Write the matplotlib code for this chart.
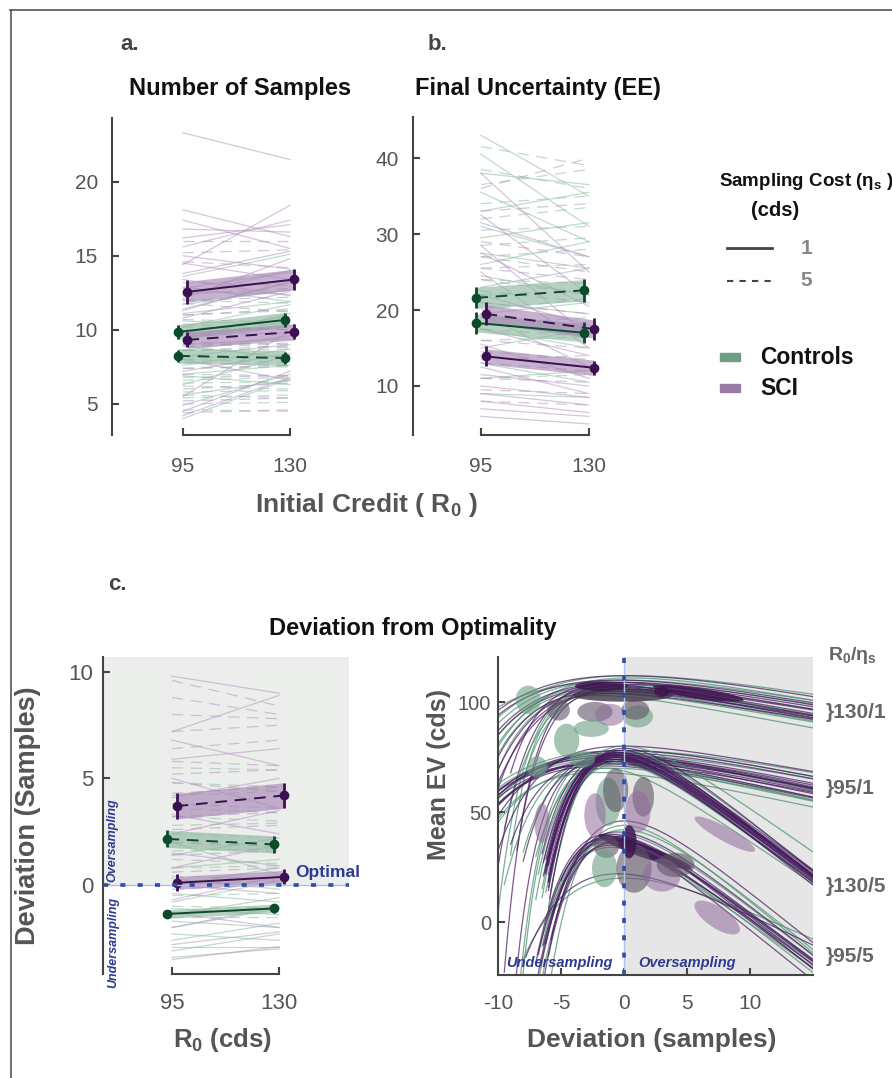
import numpy as np
import matplotlib
matplotlib.use('Agg')
import matplotlib.pyplot as plt
from matplotlib import font_manager
from matplotlib.lines import Line2D
from matplotlib.patches import Rectangle, Polygon

# ---------------- data ----------------
COND_X = [95, 130]
COND_NAMES = ['130/1', '95/1', '130/5', '95/5']

# panel a : number of samples  (v95, v130) per subject
A_CTL_1 = [(13.6, 15.1), (12.9, 11.9), (12.3, 14.0), (11.7, 12.7), (11.1, 11.9), (10.6, 10.3),
           (10.2, 11.7), (9.8, 10.9), (9.4, 10.6), (9.0, 9.4), (8.6, 9.6), (8.2, 9.0), (7.6, 8.7),
           (7.0, 7.6), (6.3, 8.3), (5.6, 6.6), (4.9, 7.0), (4.0, 6.7), (12.6, 12.4), (11.3, 13.3),
           (8.9, 8.1), (6.9, 6.3)]
A_CTL_5 = [(12.0, 11.8), (11.0, 11.3), (10.2, 10.0), (9.6, 9.8), (9.1, 8.8), (8.6, 8.7), (8.2, 8.0),
           (7.8, 7.6), (7.4, 7.5), (7.0, 6.9), (6.6, 6.8), (6.2, 6.0), (5.8, 5.9), (5.4, 5.6),
           (5.0, 5.1), (4.6, 4.5), (10.7, 10.5), (8.9, 9.1), (6.4, 6.5), (5.6, 5.4)]
A_SCI_1 = [(23.3, 21.5), (18.1, 16.3), (17.4, 15.5), (16.2, 17.1), (15.6, 17.4), (14.4, 18.4),
           (15.0, 14.1), (14.5, 13.4), (13.8, 15.3), (13.4, 12.3), (12.1, 14.8), (11.4, 13.2),
           (10.8, 12.6), (9.4, 11.1), (8.0, 6.6), (5.5, 9.9), (4.5, 7.2), (4.2, 6.8), (16.8, 16.6),
           (12.8, 13.9), (7.2, 8.4)]
A_SCI_5 = [(16.0, 16.0), (14.6, 14.2), (13.2, 13.0), (12.4, 12.8), (11.8, 11.2), (11.0, 11.4),
           (10.4, 10.0), (9.8, 10.2), (9.2, 9.0), (8.6, 8.9), (8.0, 7.8), (7.4, 7.6), (6.8, 6.9),
           (6.0, 6.4), (5.2, 5.4), (4.4, 4.6), (15.2, 15.4), (12.0, 12.2)]
# rows: CTL eta1, CTL eta5, SCI eta1, SCI eta5 ; cols: R0 95, 130
A_MEAN = [[9.86, 10.67], [8.24, 8.10], [12.57, 13.40], [9.32, 9.86]]
A_SEM = [[0.45, 0.45], [0.4, 0.4], [0.8, 0.7], [0.5, 0.5]]
A_BAND = [[0.5, 0.5], [0.5, 0.5], [0.7, 0.7], [0.55, 0.55]]

# panel b : final uncertainty
B_CTL_1 = [(43.0, 35.0), (40.5, 31.0), (38.0, 36.5), (35.5, 29.0), (33.0, 35.5), (31.0, 27.0),
           (29.5, 31.5), (27.5, 25.5), (26.0, 29.0), (24.5, 22.0), (23.0, 25.5), (21.0, 19.5),
           (19.5, 21.0), (17.5, 15.0), (15.0, 17.5), (13.0, 10.5), (11.0, 12.0), (9.0, 8.5)]
B_CTL_5 = [(41.5, 39.0), (38.5, 36.0), (36.5, 38.5), (34.0, 35.0), (32.0, 33.5), (30.5, 31.0),
           (28.5, 29.5), (27.0, 28.0), (25.5, 26.0), (24.0, 23.5), (22.0, 22.5), (20.0, 21.5),
           (18.0, 19.0), (16.0, 16.5), (13.5, 14.0), (11.0, 11.5)]
B_SCI_1 = [(38.0, 25.0), (32.5, 22.0), (31.5, 27.0), (28.5, 16.5), (27.5, 20.5), (25.0, 15.0),
           (22.0, 18.0), (19.5, 12.5), (17.5, 14.0), (15.5, 11.0), (14.0, 12.5), (12.5, 9.0),
           (11.5, 10.0), (10.0, 8.5), (9.0, 7.5), (8.0, 6.5), (7.0, 6.0), (6.0, 5.0)]
B_SCI_5 = [(36.0, 40.0), (33.0, 34.0), (29.0, 27.0), (27.0, 25.0), (25.5, 24.0), (24.0, 22.0),
           (22.5, 21.0), (21.0, 19.5), (19.0, 18.0), (17.5, 16.5), (16.0, 15.0), (14.5, 13.5),
           (13.0, 12.0), (11.0, 10.5), (9.5, 9.0), (8.0, 7.5)]
B_MEAN = [[18.3, 17.0], [21.6, 22.6], [13.9, 12.4], [19.5, 17.5]]
B_SEM = [[1.5, 1.4], [1.4, 1.5], [1.3, 0.9], [1.5, 1.4]]
B_BAND = [[1.2, 1.2], [1.4, 1.4], [1.0, 1.0], [1.2, 1.2]]

# panel c : deviation from optimality
C_CTL_1 = [(2.0, 0.5), (1.4, 2.2), (0.8, 1.2), (0.3, -0.2), (0.0, 0.8), (-0.4, -0.8), (-0.8, 0.2),
           (-1.1, -1.4), (-1.4, -0.6), (-1.7, -2.0), (-2.0, -1.1), (-2.3, -2.6), (-2.6, -1.8),
           (-2.9, -2.9), (-3.1, -2.3), (-3.4, -3.0)]
C_CTL_5 = [(5.5, 5.4), (4.8, 4.6), (4.2, 4.4), (3.6, 3.4), (3.2, 3.0), (2.8, 2.9), (2.4, 2.2),
           (2.0, 1.8), (1.6, 1.7), (1.2, 1.0), (0.8, 0.9), (0.4, 0.3), (0.0, 0.2), (-0.5, -0.4),
           (-1.0, -1.1), (-1.5, -1.5)]
C_SCI_1 = [(9.8, 9.0), (7.2, 8.9), (6.8, 5.6), (5.9, 6.4), (5.0, 3.6), (4.1, 5.0), (3.3, 2.4),
           (2.4, 3.5), (1.5, 0.9), (0.8, 1.9), (0.0, -0.4), (-0.7, 0.4), (-1.3, -2.0), (-2.0, -1.0),
           (-2.8, -2.2), (-3.5, -2.9)]
C_SCI_5 = [(9.6, 8.4), (8.8, 8.0), (8.0, 7.8), (7.2, 7.5), (6.4, 6.8), (5.8, 5.6), (5.2, 5.4),
           (4.8, 4.4), (4.3, 4.6), (3.8, 3.6), (3.2, 3.4), (2.6, 2.8), (2.0, 1.8), (1.4, 1.6),
           (0.6, 0.8), (-0.2, 0.0)]
C_MEAN = [[-1.36, -1.1], [2.16, 1.9], [0.1, 0.38], [3.7, 4.2]]
C_SEM = [[0.2, 0.2], [0.4, 0.4], [0.4, 0.35], [0.6, 0.6]]
C_BAND = [[0.2, 0.2], [0.4, 0.4], [0.3, 0.3], [0.6, 0.6]]

# panel d : model EV curves  (group, peak EV, peak deviation, width, cost slope, first deviation)
CURVES_130_1 = [('C', 108, -0.5, 4.5, 1.0, -12), ('C', 110, 0.0, 5.0, 0.9, -12), ('C', 106, -1.0, 4.0, 1.0, -12),
                ('C', 112, 0.5, 5.5, 0.9, -12), ('C', 104, -1.5, 3.5, 1.0, -12), ('C', 107, 0.0, 3.0, 1.1, -9.5),
                ('C', 105, -0.5, 2.5, 1.0, -8), ('C', 109, -1.0, 6.0, 0.95, -12), ('C', 103, -2.0, 3.0, 1.05, -12),
                ('C', 111, 0.5, 4.5, 1.0, -12), ('C', 106, -1.5, 2.0, 1.0, -9), ('C', 108, -1.0, 2.3, 1.0, -10),
                ('S', 107, -0.5, 4.5, 0.95, -12), ('S', 109, 0.0, 5.0, 1.0, -12), ('S', 105, -1.0, 3.5, 0.9, -12),
                ('S', 110, -0.5, 5.5, 1.0, -12), ('S', 106, 0.5, 4.0, 1.05, -12), ('S', 108, -1.5, 2.5, 1.0, -9),
                ('S', 104, -1.0, 3.0, 0.9, -10), ('S', 112, 0.0, 6.0, 1.0, -12), ('S', 106, -0.5, 2.2, 1.0, -8.5),
                ('S', 108, 0.5, 4.0, 0.95, -12), ('S', 107, -1.0, 2.0, 1.0, -9.5), ('S', 109, -0.5, 2.6, 0.95, -10)]
CURVES_95_1 = [('C', 74, -1.0, 5.5, 1.2, -12), ('C', 76, -0.5, 6.0, 1.1, -12), ('C', 72, -1.5, 5.0, 1.3, -12),
               ('C', 78, 0.0, 5.5, 1.2, -12), ('C', 70, -1.0, 4.5, 1.25, -12), ('C', 75, -0.5, 3.0, 1.2, -9.5),
               ('C', 73, -1.0, 2.5, 1.3, -8), ('C', 78, 0.0, 6.5, 1.1, -12), ('C', 68, -2.0, 4.0, 1.2, -12),
               ('C', 77, -0.5, 2.0, 1.2, -8.5), ('C', 72, -1.0, 1.8, 1.2, -9.0),
               ('S', 75, -1.0, 5.5, 1.25, -12), ('S', 73, -0.5, 6.0, 1.2, -12), ('S', 76, -1.0, 5.0, 1.15, -12),
               ('S', 74, -0.5, 5.5, 1.3, -12), ('S', 72, -1.5, 6.0, 1.2, -12), ('S', 78, 0.0, 4.5, 1.1, -12),
               ('S', 74, -1.0, 3.0, 1.2, -9), ('S', 76, -0.5, 2.5, 1.2, -8), ('S', 71, -1.5, 5.0, 1.25, -12),
               ('S', 80, 0.0, 3.5, 1.0, -10), ('S', 75, -1.0, 5.8, 1.2, -12), ('S', 73, -0.8, 5.2, 1.25, -12),
               ('S', 77, -0.5, 5.6, 1.15, -12), ('S', 74, -1.2, 1.9, 1.2, -9.5)]
CURVES_130_5 = [('C', 76, -0.5, 2.8, 4.3, -6.5), ('C', 74, -1.0, 2.9, 4.1, -6.8), ('C', 78, 0.0, 2.7, 4.4, -6.0),
                ('C', 72, -0.5, 2.7, 4.2, -6.2), ('C', 75, -1.0, 2.8, 4.3, -7.0), ('C', 70, -1.5, 3.0, 3.9, -7.0),
                ('C', 77, 0.0, 2.8, 4.6, -5.8), ('C', 73, -0.5, 2.9, 4.1, -6.5), ('C', 80, 0.0, 3.0, 4.0, -6.2),
                ('S', 76, -0.5, 2.8, 4.3, -6.0), ('S', 75, -0.8, 2.8, 4.2, -6.2), ('S', 77, -0.3, 2.7, 4.4, -6.0),
                ('S', 74, -0.6, 2.9, 4.3, -6.3), ('S', 76, -1.0, 2.9, 4.1, -6.5), ('S', 78, -0.2, 2.6, 4.5, -5.9),
                ('S', 73, -0.7, 2.8, 4.2, -6.1), ('S', 75, -0.4, 2.7, 4.3, -6.0), ('S', 77, -0.6, 2.9, 4.4, -6.4),
                ('S', 74, -0.2, 2.8, 4.1, -6.0), ('S', 76, -0.8, 2.7, 4.3, -6.2), ('S', 79, 0.0, 2.9, 4.6, -6.0),
                ('S', 75, -0.6, 2.8, 4.2, -6.1), ('S', 76, -0.3, 2.8, 4.4, -6.0), ('S', 74, -0.9, 2.9, 4.3, -6.4),
                ('S', 77, -0.4, 2.7, 4.2, -6.0), ('S', 75, -0.7, 2.8, 4.5, -6.2)]
CURVES_95_5 = [('C', 38, -1.0, 2.8, 4.2, -6.5), ('C', 40, -0.5, 3.0, 4.4, -7.0), ('C', 36, -1.5, 2.6, 4.1, -6.0),
               ('C', 42, 0.0, 3.2, 4.6, -7.5), ('C', 34, -1.0, 3.0, 4.0, -6.8), ('C', 44, 0.0, 2.7, 4.7, -6.0),
               ('C', 20, 0.0, 4.5, 2.6, -8.0), ('C', 37, -1.0, 2.4, 4.4, -5.2),
               ('S', 38, -0.8, 2.8, 4.3, -6.2), ('S', 39, -1.0, 3.0, 4.5, -6.8), ('S', 37, -0.5, 2.7, 4.2, -6.0),
               ('S', 40, -1.2, 2.9, 4.6, -7.0), ('S', 36, -0.8, 2.6, 4.3, -5.8), ('S', 41, -0.5, 3.1, 4.5, -7.2),
               ('S', 35, -1.0, 2.8, 4.1, -6.4), ('S', 46, 0.0, 3.0, 4.6, -6.5), ('S', 22, -0.5, 4.0, 2.8, -7.8),
               ('S', 38, -1.5, 2.5, 4.6, -5.0), ('S', 39, -0.7, 2.9, 4.4, -6.6)]
# subject estimate ellipses (kind, centre dev, centre EV, half-width dev, half-height EV, tilt)
BLOBS = [('G', -7.6, 101, 1.0, 6.5, 0), ('K', -5.2, 96.4, 0.9, 4.8, 0), ('G', -4.55, 82.7, 1.0, 7.5, 0),
         ('K', -2.3, 95.6, 1.4, 4.5, 0), ('P', -1.1, 94.2, 1.2, 5.0, 0), ('G', 1.1, 93.5, 1.2, 5.0, 0),
         ('K', 0.9, 96.5, 1.1, 4.5, 0), ('G', -2.6, 88, 1.4, 3.8, 0), ('X', -0.1, 103.2, 4.0, 3.0, 0),
         ('D', -1.8, 107.3, 2.1, 2.2, 0), ('D', 5.9, 104, 3.6, 2.4, -0.83), ('D', 3.0, 104.8, 0.6, 2.4, 0),
         ('G', -6.9, 70.6, 0.8, 4.8, 0), ('G', -3.3, 74, 1.0, 3.8, 0), ('G', -1.25, 54.7, 1.0, 11, 0),
         ('P', -2.3, 48.6, 0.85, 10, 0), ('K', -0.66, 60, 1.0, 10, 0), ('K', 1.53, 57, 0.85, 9, 0),
         ('P', 1.1, 50.2, 1.0, 9.5, 0), ('P', -6.5, 45, 0.6, 9, 0), ('P', 8.0, 40, 2.4, 3.6, -3),
         ('D', 1.67, 32, 3.7, 3.0, -2.0), ('K', -1.4, 34.2, 1.0, 5, 0), ('G', -1.54, 24.4, 1.0, 8.5, 0),
         ('K', 0.8, 24.4, 1.4, 11, 0), ('P', 3.0, 21.4, 1.5, 7.5, 0), ('K', 4.1, 26, 1.5, 5.5, 0),
         ('D', 0.4, 36.5, 0.6, 7.5, 0), ('P', 7.4, 2.1, 1.8, 5.5, -3.0)]

# ---------------- style ----------------
W, H = 892, 1078
names = {f.name for f in font_manager.fontManager.ttflist}
BASE = 'Liberation Sans' if 'Liberation Sans' in names else 'DejaVu Sans'
plt.rcParams['font.family'] = [BASE, 'DejaVu Sans']
plt.rcParams['mathtext.fontset'] = 'custom'
plt.rcParams['mathtext.rm'] = BASE
plt.rcParams['mathtext.bf'] = BASE + ':bold'
plt.rcParams['axes.unicode_minus'] = False

GREEN = '#0b4a2b'
PURPLE = '#3b0f50'
G_LIGHT = '#8fbda3'
P_LIGHT = '#b794c2'
G_BAND = '#8fb8a0'
P_BAND = '#a887b5'
AXC = '#444444'
TXT = '#555555'
BLUE = '#2a4fa8'
BLUE_T = '#2e3a8f'

fig = plt.figure(figsize=(W / 100, H / 100), dpi=100)


def px_axes(l, t, r, b):
    return fig.add_axes([l / W, 1 - b / H, (r - l) / W, (b - t) / H])


def ftext(x, y, s, **kw):
    return fig.text(x / W, 1 - y / H, s, **kw)


def style_axes(ax, xlim, ylim, yticks, ylabsize=15, xlabsize=15, xpad=16, ypad=10):
    ax.set_xlim(*xlim)
    ax.set_ylim(*ylim)
    for s in ['top', 'right']:
        ax.spines[s].set_visible(False)
    for s in ['left', 'bottom']:
        ax.spines[s].set_color(AXC)
        ax.spines[s].set_linewidth(1.5)
    ax.spines['bottom'].set_bounds(95, 130)
    ax.set_xticks(COND_X)
    ax.set_yticks(yticks)
    ax.tick_params(axis='both', direction='in', length=5, width=1.5, colors=AXC, labelcolor=TXT)
    ax.tick_params(axis='x', labelsize=xlabsize, pad=xpad)
    ax.tick_params(axis='y', labelsize=ylabsize, pad=ypad)
    ax.patch.set_alpha(0)


def draw_subjects(ax, data, color, dashed):
    for v95, v130 in data:
        ax.plot(COND_X, [v95, v130], color=color, lw=0.9, alpha=0.55,
                ls=(0, (9, 6)) if dashed else '-', zorder=1)


def draw_means(ax, means, sems, bands):
    specs = [(GREEN, G_BAND, False, -1.5), (GREEN, G_BAND, True, -1.5),
             (PURPLE, P_BAND, False, 1.5), (PURPLE, P_BAND, True, 1.5)]
    for (col, bcol, dashed, off), m, e, b in zip(specs, means, sems, bands):
        xs = [COND_X[0] + off, COND_X[1] + off]
        ax.fill_between(xs, [m[0] - b[0], m[1] - b[1]], [m[0] + b[0], m[1] + b[1]],
                        color=bcol, alpha=0.65, lw=0, zorder=2)
        ax.plot(xs, m, color=col, lw=1.4, ls=(0, (6, 4)) if dashed else '-', zorder=3)
        ax.errorbar(xs, m, yerr=e, fmt='o', color=col, ms=6, elinewidth=2, capsize=0, zorder=4)


# ---------------- panel a ----------------
axa = px_axes(112, 118, 357, 435)
draw_subjects(axa, A_CTL_1, G_LIGHT, False)
draw_subjects(axa, A_CTL_5, G_LIGHT, True)
draw_subjects(axa, A_SCI_1, P_LIGHT, False)
draw_subjects(axa, A_SCI_5, P_LIGHT, True)
draw_means(axa, A_MEAN, A_SEM, A_BAND)
style_axes(axa, (71.8, 152), (2.9, 24.3), [5, 10, 15, 20])

# ---------------- panel b ----------------
axb = px_axes(413, 117, 658, 435)
draw_subjects(axb, B_CTL_1, G_LIGHT, False)
draw_subjects(axb, B_CTL_5, G_LIGHT, True)
draw_subjects(axb, B_SCI_1, P_LIGHT, False)
draw_subjects(axb, B_SCI_5, P_LIGHT, True)
draw_means(axb, B_MEAN, B_SEM, B_BAND)
style_axes(axb, (73, 152.4), (3.55, 45.4), [10, 20, 30, 40])

# ---------------- panel c ----------------
axc = px_axes(103, 657, 349, 974)
axc.axhspan(0, 11, color='#eceeec', lw=0, zorder=0)
draw_subjects(axc, C_CTL_1, G_LIGHT, False)
draw_subjects(axc, C_CTL_5, G_LIGHT, True)
draw_subjects(axc, C_SCI_1, P_LIGHT, False)
draw_subjects(axc, C_SCI_5, P_LIGHT, True)
draw_means(axc, C_MEAN, C_SEM, C_BAND)
axc.axhline(0, color='#b8c0e0', lw=1, zorder=5)
axc.axhline(0, color=BLUE, lw=2.6, ls=(0, (1.4, 3.4)), zorder=5)
style_axes(axc, (72.4, 152.9), (-4.18, 10.7), [0, 5, 10], ylabsize=16, xlabsize=16,
           xpad=14, ypad=7)
axc.text(135.2, 0.25, 'Optimal', color=BLUE_T, fontsize=12.5, fontweight='bold',
         ha='left', va='bottom', zorder=6, clip_on=False)
axc.text(75.6, 2.1, 'Oversampling', color=BLUE_T, fontsize=9, fontweight='bold', style='italic',
         rotation=90, ha='center', va='center')
axc.text(75.6, -2.7, 'Undersampling', color=BLUE_T, fontsize=9, fontweight='bold', style='italic',
         rotation=90, ha='center', va='center', clip_on=False)
axc.set_ylabel('Deviation (Samples)', fontsize=19.5, fontweight='bold', color=TXT)
axc.yaxis.set_label_coords(-0.25, 0.5)

# ---------------- panel d ----------------
axd = px_axes(498, 657, 813, 975)
axd.axvspan(0, 15, color='#e6e6e6', lw=0, zorder=0)
CURVE_COL = {'C': '#4a8e6d', 'S': '#48195f'}
for curves in [CURVES_130_1, CURVES_95_1, CURVES_130_5, CURVES_95_5]:
    for g, P, d0, w, s, start in curves:
        d = np.linspace(start, 15, 300)
        u = (d - d0) / w
        ev = P - s * w * (u - 1 + np.exp(-u))
        axd.plot(d, ev, color=CURVE_COL[g], lw=0.9, alpha=0.72, zorder=2)
BLOB_COL = {'G': ('#6b9f84', 0.6), 'P': ('#8f6b9c', 0.55), 'K': ('#5e5465', 0.6),
            'D': ('#3d1550', 0.85), 'X': ('#3f3547', 0.8)}
t = np.linspace(0, 2 * np.pi, 80)
for kind, cx, cy, rx, ry, k in BLOBS:
    xs = cx + rx * np.cos(t)
    ys = cy + ry * np.sin(t) + k * rx * np.cos(t)
    col, al = BLOB_COL[kind]
    axd.add_patch(Polygon(np.column_stack([xs, ys]), closed=True, facecolor=col, edgecolor='none',
                          alpha=al, zorder=3))
axd.axvline(0, color='#b8c0e0', lw=1, zorder=5)
axd.axvline(0, color=BLUE, lw=2.6, ls=(0, (1.4, 3.4)), zorder=5)
axd.set_xlim(-10, 15)
axd.set_ylim(-24, 120.5)
for s in ['top', 'right']:
    axd.spines[s].set_visible(False)
for s in ['left', 'bottom']:
    axd.spines[s].set_color(AXC)
    axd.spines[s].set_linewidth(1.5)
    axd.spines[s].set_zorder(6)
axd.set_xticks([-10, -5, 0, 5, 10])
axd.set_yticks([0, 50, 100])
axd.tick_params(axis='both', direction='in', length=5, width=1.5, colors=AXC, labelcolor=TXT)
axd.tick_params(axis='x', labelsize=15, pad=14)
axd.tick_params(axis='y', labelsize=14.5, pad=5)
axd.text(-5.1, -18.5, 'Undersampling', color=BLUE_T, fontsize=10.5, fontweight='bold', style='italic',
         ha='center', va='center', zorder=7)
axd.text(5.0, -18.5, 'Oversampling', color=BLUE_T, fontsize=10.5, fontweight='bold', style='italic',
         ha='center', va='center', zorder=7)
axd.set_ylabel('Mean EV (cds)', fontsize=18, fontweight='bold', color=TXT)
axd.yaxis.set_label_coords(-0.15, 0.63)

# ---------------- figure texts ----------------
fig.add_artist(Line2D([10 / W, 1], [1 - 10 / H, 1 - 10 / H], color='#555555', lw=1.2))
fig.add_artist(Line2D([11 / W, 11 / W], [0, 1 - 10 / H], color='#555555', lw=1.2))

ftext(130, 45, 'a.', fontsize=16, fontweight='bold', color='#444444', ha='center', va='center')
ftext(437, 45, 'b.', fontsize=16, fontweight='bold', color='#444444', ha='center', va='center')
ftext(117, 585, 'c.', fontsize=16, fontweight='bold', color='#444444', ha='center', va='center')
ftext(240, 88, 'Number of Samples', fontsize=17, fontweight='bold', color='#111111', ha='center', va='center')
ftext(538, 88, 'Final Uncertainty (EE)', fontsize=17, fontweight='bold', color='#111111', ha='center', va='center')
ftext(413, 628, 'Deviation from Optimality', fontsize=17, fontweight='bold', color='#111111', ha='center', va='center')
ftext(366, 505, r'Initial Credit ( $\mathregular{R_0}$ )', fontsize=19, fontweight='bold', color=TXT,
      ha='center', va='center')
ftext(222, 1040, r'$\mathregular{R_0}$ (cds)', fontsize=18.5, fontweight='bold', color=TXT,
      ha='center', va='center')
ftext(652, 1040, 'Deviation (samples)', fontsize=19, fontweight='bold', color=TXT,
      ha='center', va='center')

# legend
ftext(806, 182, r'Sampling Cost ($\mathregular{\eta_s}$ )', fontsize=13.5, fontweight='bold', color='#111111',
      ha='center', va='center')
ftext(775, 210, '(cds)', fontsize=14.5, fontweight='bold', color='#111111', ha='center', va='center')
fig.add_artist(Line2D([727 / W, 772 / W], [1 - 248 / H] * 2, color='#444444', lw=2))
fig.add_artist(Line2D([727 / W, 772 / W], [1 - 281 / H] * 2, color='#444444', lw=1.5, ls=(0, (3, 3))))
ftext(806, 248, '1', fontsize=15, fontweight='bold', color='#888888', ha='center', va='center')
ftext(806, 281, '5', fontsize=15, fontweight='bold', color='#888888', ha='center', va='center')
fig.add_artist(Rectangle((720 / W, 1 - 361 / H), 20 / W, 8 / H, color='#6f9e85', transform=fig.transFigure))
fig.add_artist(Rectangle((720 / W, 1 - 392 / H), 20 / W, 8 / H, color='#9a7ca6', transform=fig.transFigure))
ftext(760, 357, 'Controls', fontsize=16.5, fontweight='bold', color='#111111', ha='left', va='center')
ftext(760, 388, 'SCI', fontsize=16.5, fontweight='bold', color='#111111', ha='left', va='center')

# right labels of panel d
ftext(828, 655, r'$\mathregular{R_0/\eta_s}$', fontsize=14, fontweight='bold', color='#666666',
      ha='left', va='center')
for name, y in zip(COND_NAMES, [712, 788, 886, 957]):
    ftext(826, y, '}' + name, fontsize=15, fontweight='bold', color='#666666', ha='left', va='center')

fig.savefig('out.png', dpi=100)
